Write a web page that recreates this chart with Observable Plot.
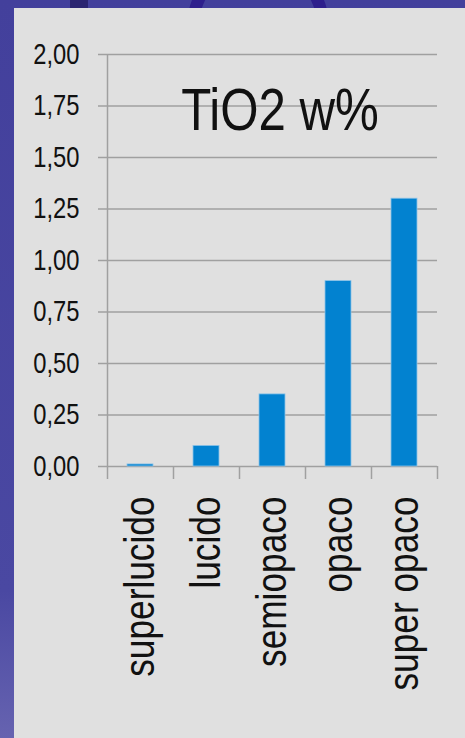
<!DOCTYPE html>
<html>
<head>
<meta charset="utf-8">
<script src="https://cdn.jsdelivr.net/npm/d3@7"></script>
<script src="https://cdn.jsdelivr.net/npm/@observablehq/plot@0.6"></script>
<style>
  html, body { margin: 0; padding: 0; }
  body {
    width: 465px; height: 738px; overflow: hidden; position: relative;
    background: linear-gradient(180deg, #43409c 0%, #4a48a2 80%, #6663b0 100%);
    font-family: "Liberation Sans", Arial, sans-serif;
  }
  #ring { position: absolute; left: 188px; top: -40px; width: 140px; height: 120px; border-radius: 50%;
    border: 12px solid #2e1f8c; box-sizing: border-box; }
  #bar { position: absolute; left: 70px; top: 0; width: 18px; height: 10px; background: #2a2470; }
  #panel { position: absolute; left: 14px; top: 8px; width: 451px; height: 730px; background: #e0e0e0; }
  #title { position: absolute; left: 0; width: 532px; top: 72px; text-align: center; font-size: 60px;
    color: #111; line-height: 1; pointer-events: none; transform: scaleX(0.82); transform-origin: 266px 0; }
</style>
</head>
<body>
<div id="ring"></div>
<div id="bar"></div>
<div id="panel"><div id="chart"></div><div id="title">TiO2 w%</div></div>
<script>
const categories = ["superlucido", "lucido", "semiopaco", "opaco", "super opaco"];
const values = [0.01, 0.10, 0.35, 0.90, 1.30];
const yTicks = [0, 0.25, 0.5, 0.75, 1, 1.25, 1.5, 1.75, 2];
const yTickLabels = ["0,00", "0,25", "0,50", "0,75", "1,00", "1,25", "1,50", "1,75", "2,00"];

const data = categories.map((c, i) => ({category: c, value: values[i]}));
const W = 451, H = 730, mL = 93, mR = 28;
const band = (W - mL - mR) / categories.length;
const grid = "#a0a0a0";
const font = '"Liberation Sans", Arial, sans-serif';

const chart = Plot.plot({
  width: W, height: H,
  marginLeft: mL, marginRight: mR, marginTop: 46, marginBottom: 272,
  style: {background: "transparent", fontFamily: font, color: "#111", overflow: "visible"},
  x: {type: "band", domain: categories, padding: 0},
  y: {domain: [0, 2]},
  marks: [
    Plot.ruleY(yTicks, {stroke: grid, strokeWidth: 1.5}),
    Plot.axisY({ticks: yTicks, tickSize: 9, tickPadding: 19, stroke: grid, strokeWidth: 1.5, strokeOpacity: 1,
      tickFormat: (d) => yTickLabels[yTicks.indexOf(d)], fontSize: 29, label: null}),
    Plot.ruleX(categories, {x: (d) => d, dx: -band / 2, y1: yTicks[0], y2: yTicks[0], insetBottom: -13, stroke: grid, strokeWidth: 1.5}),
    Plot.ruleX(categories.slice(-1), {x: (d) => d, dx: band / 2, y1: yTicks[0], y2: yTicks[0], insetBottom: -13, stroke: grid, strokeWidth: 1.5}),
    Plot.ruleX(categories.slice(0, 1), {x: (d) => d, dx: -band / 2, y1: yTicks[0], y2: yTicks[yTicks.length - 1], stroke: grid, strokeWidth: 1.5}),
    Plot.barY(data, {x: "category", y: "value", fill: "#0282d0", stroke: "#8cc3e8", strokeWidth: 0.8, insetLeft: 20, insetRight: 20}),
    Plot.axisX({tickSize: 0, tickPadding: 30, tickRotate: -90, fontSize: 43, label: null})
  ]
});
// condense axis labels (narrow face)
chart.querySelectorAll('g[aria-label$="tick label"] text').forEach((t) => {
  const tr = t.getAttribute("transform") || "";
  t.setAttribute("transform", tr + " scale(0.82,1)");
});
document.getElementById("chart").appendChild(chart);
</script>
</body>
</html>
